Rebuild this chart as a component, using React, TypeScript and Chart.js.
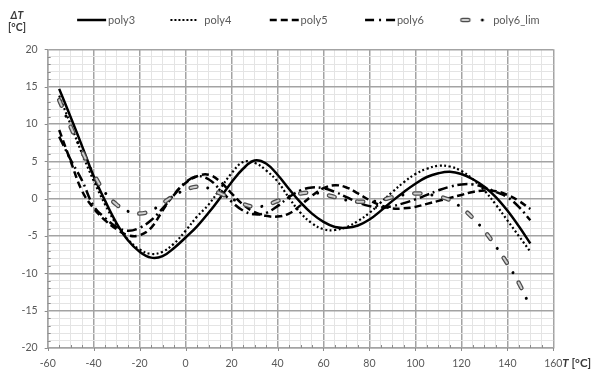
import React, { useEffect, useRef } from 'react';
import { Chart, registerables } from 'chart.js';

Chart.register(...registerables);

// ---- data ----
const temperatures = [
  -55, -50, -45, -40, -35, -30, -25, -20, -15, -10, -5, 0, 5, 10, 15, 20, 25, 30, 35, 40, 45,
  50, 55, 60, 65, 70, 75, 80, 85, 90, 95, 100, 105, 110, 115, 120, 125, 130, 135, 140, 145, 150,
];
const poly3 = [
  14.7, 10.9, 7.0, 3.0, -0.3, -3.3, -5.6, -7.1, -7.9, -7.7, -6.6, -5.2, -3.7, -1.9, 0.1, 2.2, 4.0,
  5.1, 4.7, 3.2, 1.3, -0.5, -2.0, -3.1, -3.8, -3.9, -3.6, -2.8, -1.6, -0.3, 0.9, 2.0, 2.9, 3.4,
  3.6, 3.3, 2.6, 1.6, 0.2, -1.6, -3.7, -6.0,
];
const poly4 = [
  13.8, 9.9, 6.0, 2.4, -0.8, -3.5, -5.5, -6.8, -7.4, -7.1, -6.0, -4.3, -2.4, -0.8, 1.3, 3.4, 4.9,
  4.8, 3.8, 2.3, 0.1, -1.9, -3.3, -4.1, -4.2, -3.8, -3.0, -1.9, -0.5, 0.9, 2.2, 3.3, 4.0, 4.4, 4.3,
  3.7, 2.6, 1.1, -0.8, -2.9, -5.0, -7.1,
];
const poly5 = [
  9.2, 5.0, 1.0, -1.3, -2.9, -4.1, -4.9, -4.9, -3.9, -1.6, 0.6, 2.1, 3.0, 3.2, 2.3, 0.7, -0.8,
  -1.8, -2.3, -2.4, -2.0, -0.9, 0.4, 1.4, 1.8, 1.5, 0.7, -0.2, -0.9, -1.3, -1.3, -1.1, -0.7, -0.3,
  0.1, 0.5, 0.9, 1.1, 1.0, 0.5, -0.3, -1.4,
];
const poly6 = [
  8.3, 5.2, 2.4, -1.0, -2.6, -3.8, -4.3, -3.9, -2.9, -1.3, 0.5, 2.2, 3.0, 2.6, 1.2, -0.4, -1.6,
  -2.1, -1.9, -1.0, 0.2, 1.1, 1.5, 1.4, 0.9, 0.2, -0.5, -1.0, -1.2, -1.0, -0.6, -0.1, 0.5, 1.1,
  1.6, 1.9, 1.9, 1.5, 0.9, 0.2, -1.1, -2.9,
];
const poly6Lim = [
  13.2, 9.6, 6.3, 3.3, 0.8, -0.8, -1.7, -2.0, -1.6, -0.6, 0.4, 1.2, 1.6, 1.4, 0.7, 0.0, -0.7,
  -1.1, -0.9, -0.3, 0.3, 0.7, 0.8, 0.6, 0.2, -0.2, -0.4, -0.4, -0.2, 0.2, 0.5, 0.7, 0.6, 0.3,
  -0.2, -1.2, -2.6, -4.3, -6.4, -8.7, -11.3, -14.5,
];
const seriesNames = ['poly3', 'poly4', 'poly5', 'poly6', 'poly6_lim'];

const xMin = -60;
const xMax = 160;
const xMajor = 20;
const xMinor = 5;
const yMin = -20;
const yMax = 20;
const yMajor = 5;
const yMinor = 1;
const yTitle = ['ΔT', '[°C]'];
const xTitle = ['T', ' [°C]'];

// ---- styling ----
const FONT = 'Lato, "Liberation Sans", sans-serif';
const TEXT = '#595959';
const TITLE = '#3a3a3a';
const MAJOR = '#a3a3a3';
const MINOR = '#e4e4e4';
const TICKMARK = '#8c8c8c';
const LEGEND_FONT = 11;
const LEGEND_PAD = 10;
const ITEM_STEP = 96.3;
const FIRST_TEXT_X = 108;
const LEGEND_Y = 20;
const AREA = { left: 47.7, right: 553.3, top: 49.3, bottom: 348 };

function makeSample(name: string, w: number): HTMLCanvasElement {
  const c = document.createElement('canvas');
  c.width = w;
  c.height = 10;
  const g = c.getContext('2d')!;
  const y = 5;
  const at = (r: number) => w + 1 + r;
  const seg = (x0: number, x1: number, lw: number, color: string, dash: number[], cap: CanvasLineCap = 'butt') => {
    g.save();
    g.beginPath();
    g.strokeStyle = color;
    g.lineWidth = lw;
    g.lineCap = cap;
    g.setLineDash(dash);
    g.moveTo(x0, y);
    g.lineTo(x1, y);
    g.stroke();
    g.restore();
  };
  if (name === 'poly3') seg(at(-31), at(-2), 2.5, '#000', []);
  else if (name === 'poly4') seg(at(-34), at(-8), 2, '#000', [2, 2]);
  else if (name === 'poly5') seg(at(-31), at(-1), 2.5, '#000', [7, 4]);
  else if (name === 'poly6') seg(at(-32), at(-1), 2.5, '#000', [9, 5, 2, 5]);
  else {
    seg(at(-31), at(-25), 4.5, '#4d4d4d', [], 'round');
    seg(at(-31), at(-25), 2, '#cfcfcf', [], 'round');
    g.beginPath();
    g.fillStyle = '#000';
    g.arc(at(-11), y, 1.5, 0, Math.PI * 2);
    g.fill();
  }
  return c;
}

export default function App() {
  const ref = useRef<HTMLCanvasElement>(null);

  useEffect(() => {
    const canvas = ref.current;
    if (!canvas) return;
    const mctx = document.createElement('canvas').getContext('2d')!;
    mctx.font = `${LEGEND_FONT}px ${FONT}`;
    const textW = mctx.measureText('poly3').width;
    const boxW = Math.max(34, ITEM_STEP - LEGEND_FONT / 2 - LEGEND_PAD - textW);
    const imgW = Math.round(boxW + 9);
    const samples = seriesNames.map((n) => makeSample(n, imgW));

    const pts = (arr: number[]) => temperatures.map((t, i) => ({ x: t, y: arr[i] }));
    const base = { pointRadius: 0, pointHoverRadius: 0, fill: false, tension: 0.4, borderColor: '#000' };

    const legendShift = {
      id: 'legendShift',
      afterLayout(chart: any) {
        const lg = chart.legend;
        if (!lg || !lg.lineWidths) return;
        const cur = (lg.left + LEGEND_PAD + lg.right - lg.lineWidths[0]) / 2 + boxW + LEGEND_FONT / 2;
        const dx = FIRST_TEXT_X - cur;
        const curY = lg.top + LEGEND_PAD + LEGEND_FONT / 2;
        const dy = LEGEND_Y - curY;
        lg.left += dx;
        lg.right += dx;
        lg.top += dy;
        lg.bottom += dy;
      },
    };

    // small axis tick marks: major ones outward, minor ones inward (as in the reference)
    const axisMarks = {
      id: 'axisMarks',
      beforeDatasetsDraw(chart: any) {
        const { ctx, chartArea, scales } = chart;
        ctx.save();
        ctx.strokeStyle = TICKMARK;
        ctx.lineWidth = 1;
        ctx.beginPath();
        scales.x.ticks.forEach((t: any) => {
          const px = Math.round(scales.x.getPixelForValue(t.value)) + 0.5;
          if (t.value % xMajor === 0) {
            ctx.moveTo(px, chartArea.bottom);
            ctx.lineTo(px, chartArea.bottom + 3);
          } else {
            ctx.moveTo(px, chartArea.bottom);
            ctx.lineTo(px, chartArea.bottom - 3);
          }
        });
        scales.y.ticks.forEach((t: any) => {
          const py = Math.round(scales.y.getPixelForValue(t.value)) + 0.5;
          if (t.value % yMajor === 0) {
            ctx.moveTo(chartArea.left, py);
            ctx.lineTo(chartArea.left - 3, py);
          } else {
            ctx.moveTo(chartArea.left, py);
            ctx.lineTo(chartArea.left + 3, py);
          }
        });
        ctx.stroke();
        ctx.restore();
      },
    };

    const axisTitles = {
      id: 'axisTitles',
      afterDraw(chart: any) {
        const { ctx, chartArea } = chart;
        ctx.save();
        ctx.fillStyle = TITLE;
        ctx.textBaseline = 'middle';
        ctx.textAlign = 'center';
        ctx.font = `italic bold 10.5px ${FONT}`;
        ctx.fillText(yTitle[0], 17, 16);
        ctx.font = `bold 10.5px ${FONT}`;
        ctx.fillText(yTitle[1], 17, 28);
        ctx.textAlign = 'left';
        ctx.font = `italic bold 11.5px ${FONT}`;
        const x0 = chartArea.right + 9;
        ctx.fillText(xTitle[0], x0, 363);
        const tw = ctx.measureText(xTitle[0]).width;
        ctx.font = `bold 11.5px ${FONT}`;
        ctx.fillText(xTitle[1], x0 + tw, 363);
        ctx.restore();
      },
    };

    const chart = new Chart(canvas, {
      type: 'line',
      data: {
        datasets: [
          { ...base, label: 'poly3', data: pts(poly3), borderWidth: 2.5, order: 3 },
          { ...base, label: 'poly4', data: pts(poly4), borderWidth: 2.2, borderDash: [2, 2.5], order: 3 },
          { ...base, label: 'poly5', data: pts(poly5), borderWidth: 2.5, borderDash: [7, 4], order: 3 },
          { ...base, label: 'poly6', data: pts(poly6), borderWidth: 2.5, borderDash: [10, 4, 2, 4], order: 3 },
          {
            ...base, label: 'poly6_lim', data: pts(poly6Lim), borderWidth: 4.5, borderColor: '#4d4d4d',
            borderDash: [6, 23], borderCapStyle: 'round', order: 2,
          },
          {
            ...base, label: 'poly6_lim_fill', data: pts(poly6Lim), borderWidth: 2, borderColor: '#cfcfcf',
            borderDash: [6, 23], borderCapStyle: 'round', order: 0,
          },
          {
            ...base, label: 'poly6_lim_dot', data: pts(poly6Lim), borderWidth: 3, borderColor: '#000',
            borderDash: [0.01, 28.99], borderDashOffset: 11.5, borderCapStyle: 'round', order: 1,
          },
        ] as any,
      },
      options: {
        responsive: false,
        animation: false,
        devicePixelRatio: 1,
        layout: { padding: { top: AREA.top - 31, right: 592 - AREA.right, left: 0, bottom: 0 } },
        plugins: {
          tooltip: { enabled: false },
          legend: {
            display: true,
            position: 'top',
            labels: {
              usePointStyle: true,
              pointStyleWidth: boxW,
              padding: LEGEND_PAD,
              font: { family: FONT, size: LEGEND_FONT },
              color: TEXT,
              generateLabels: () =>
                seriesNames.map((n, i) => ({
                  text: n,
                  pointStyle: samples[i],
                  fillStyle: 'rgba(0,0,0,0)',
                  strokeStyle: 'rgba(0,0,0,0)',
                  lineWidth: 0,
                  hidden: false,
                  fontColor: TEXT,
                  datasetIndex: i,
                })) as any,
            },
          },
        },
        scales: {
          x: {
            type: 'linear',
            min: xMin,
            max: xMax,
            afterFit: (s: any) => { s.height = 369 - AREA.bottom; },
            ticks: {
              stepSize: xMinor,
              autoSkip: false,
              maxRotation: 0,
              minRotation: 0,
              padding: 9,
              color: TEXT,
              font: { family: FONT, size: 10.5 },
              callback: (v: any) => (Number(v) % xMajor === 0 ? String(v) : ''),
            },
            grid: {
              drawTicks: false,
              color: (c: any) => (c.tick && c.tick.value % xMajor === 0 ? MAJOR : MINOR),
              lineWidth: (c: any) => (c.tick && c.tick.value % xMajor === 0 ? 1.5 : 1),
            },
            border: { display: true, color: MAJOR, width: 1.5 },
          },
          y: {
            type: 'linear',
            min: yMin,
            max: yMax,
            afterFit: (s: any) => { s.width = AREA.left; },
            ticks: {
              stepSize: yMinor,
              autoSkip: false,
              padding: 10,
              color: TEXT,
              font: { family: FONT, size: 10.5 },
              callback: (v: any) => (Number(v) % yMajor === 0 ? String(v) : ''),
            },
            grid: {
              drawTicks: false,
              color: (c: any) => (c.tick && c.tick.value % yMajor === 0 ? MAJOR : MINOR),
              lineWidth: (c: any) => (c.tick && c.tick.value % yMajor === 0 ? 1.5 : 1),
            },
            border: { display: true, color: MAJOR, width: 1.5 },
          },
        },
      },
      plugins: [legendShift, axisMarks, axisTitles],
    } as any);

    return () => chart.destroy();
  }, []);

  return (
    <div style={{ position: 'fixed', left: 0, top: 0, width: 592, height: 369, background: '#fff' }}>
      <canvas ref={ref} width={592} height={369} style={{ display: 'block' }} />
    </div>
  );
}
